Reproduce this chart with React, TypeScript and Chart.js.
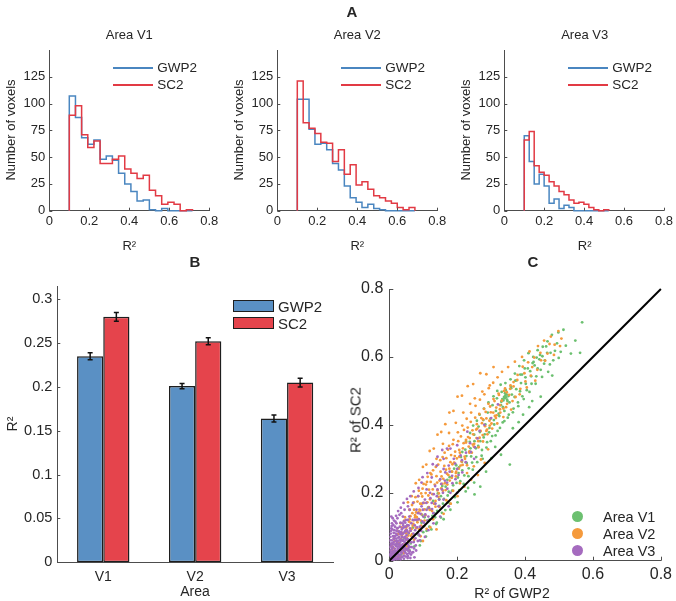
import React, { useEffect, useRef } from "react";
import { Chart, registerables } from "chart.js";
Chart.register(...registerables);

const FONT = '"Liberation Sans", Arial, Helvetica, sans-serif';
const TXT = "#262626";
const AXIS = "#4d4d4d";
const BLUE_LINE = "#4a86c0";
const RED_LINE = "#e23a44";
const BAR_BLUE = "#5a90c4";
const BAR_RED = "#e5444c";
const GREEN = "#6cc070";
const ORANGE = "#f59a3c";
const PURPLE = "#a56bbf";

// ---------- Panel A : histograms ----------
const histStart = 0.1;
const v1BinWidth = 0.0308;
const v1Gwp2 = [107, 87, 68, 62, 66, 48, 51, 47, 35, 25, 18, 9, 10, 1, 0, 2, 0, 0, 0, 0];
const v1Sc2 = [89, 98, 71, 59, 65, 44, 44, 48, 51, 39, 35, 30, 33, 19, 14, 6, 8, 6, 0, 1];
const v2BinWidth = 0.0294;
const v2Gwp2 = [104, 104, 76, 62, 63, 57, 44, 38, 23, 12, 8, 3, 6, 2, 1, 0, 0, 0, 0, 0];
const v2Sc2 = [121, 82, 77, 72, 64, 63, 46, 57, 34, 43, 24, 27, 20, 14, 12, 9, 7, 3, 1, 3];
const v3BinWidth = 0.0249;
const v3Gwp2 = [70, 46, 25, 34, 23, 7, 11, 2, 5, 3, 0, 0, 0, 0, 0, 0, 0];
const v3Sc2 = [66, 74, 42, 36, 33, 27, 23, 18, 15, 10, 7, 8, 6, 3, 1, 0, 1];
const histXTicks = [0, 0.2, 0.4, 0.6, 0.8];
const histYTicks = [0, 25, 50, 75, 100, 125];

// ---------- Panel B : bars ----------
const areas = ["V1", "V2", "V3"];
const gwp2Mean = [0.235, 0.201, 0.164];
const sc2Mean = [0.28, 0.252, 0.205];
const gwp2Err = [0.004, 0.003, 0.004];
const sc2Err = [0.005, 0.004, 0.005];
const barYTicks = [0, 0.05, 0.1, 0.15, 0.2, 0.25, 0.3];

// ---------- Panel C : scatter (values in thousandths of R²) ----------
const diagonal = [0, 0.8];
const scatterTicks = [0, 0.2, 0.4, 0.6, 0.8];
const v1Scatter = [
  [12,25],[22,48],[35,18],[41,62],[48,35],[57,80],[63,51],[69,97],[74,42],[82,118],[86,76],[93,58],[97,135],[103,102],[108,71],[114,156],[118,121],[124,92],[129,176],[133,140],[138,108],[143,198],[147,161],[152,127],[156,220],[161,182],[165,149],[171,238],[175,203],[179,168],[184,262],[188,222],[193,187],[197,281],[202,245],[206,208],[211,305],[215,266],[219,226],[224,327],[228,288],[233,249],[237,350],[241,307],[246,268],[250,371],[255,331],[259,290],[263,395],[268,352],[272,309],[277,414],[281,372],[286,333],[290,436],[295,391],[299,352],[304,458],[308,414],[313,369],[317,478],[322,433],[326,391],[331,497],[335,452],[339,411],[344,481],[348,470],[352,430],[357,534],[361,489],[366,448],[370,551],[374,505],[379,466],[383,573],[388,523],[392,484],[397,590],[401,540],[405,502],[410,611],[415,558],[419,521],[424,600],[428,575],[433,543],[437,620],[442,593],[446,562],[451,602],[456,580],[462,631],[468,556],[475,612],[483,590],[494,640],[505,615],
  [340,478],[342,486],[336,472],[345,490],[338,482],[333,476],[347,474],[341,493],[330,468],[351,485],
  [355,283],[268,218],[251,195],[301,302],[329,312],[381,408],[412,452],[446,483],[562,612],[568,702],[160,122],[201,172],[232,214],[285,262],[312,335],[364,390],[394,430],[421,470],[480,545],[250,230],[225,204],[275,300],[180,150],[140,112],[110,88],[90,45],[60,30],[30,8],
  [205,275],[215,320],[226,352],[238,376],[247,398],[258,412],[266,430],[279,448],[292,466],[307,484],[318,500],[328,518],[342,523],[358,512],[371,530],[386,548],[399,566],[422,582],[434,598],[452,630],[466,646],[479,665],[498,672],[513,680],
  [152,190],[158,168],[166,218],[172,192],[178,246],[185,206],[191,271],[198,229],[204,258],[209,234],[214,291],[221,251],[227,308],[234,272],[239,331],[244,289],[251,352],[256,305],[262,338],[267,379],[273,326],[278,363],[283,401],[288,349],[294,378],[298,418],[303,367],[309,401],[314,441],[319,382],[324,426],[329,458],[334,407],[339,441],[343,502],[349,421],[354,466],[359,508],[364,437],[369,482],[375,531],[380,455],[385,499],[391,548],[396,476],[402,521],[408,566],[413,497],[418,543],[425,585],[431,521],[437,566],[444,606],[450,541],[458,590],[465,612],[473,578],[488,618],[499,597],[520,633],[535,610],[548,648],
  [95,112],[104,128],[112,118],[120,150],[127,132],[134,168],[141,147],[147,181],[100,84],[118,100],[135,128],[155,141],[172,171]
];
const v2Scatter = [
  [8,42],[14,66],[19,28],[24,88],[28,52],[33,110],[37,74],[41,36],[46,128],[50,92],[54,60],[59,150],[63,112],[67,78],[72,172],[76,134],[80,96],[85,190],[89,150],[93,118],[98,212],[102,170],[106,134],[111,232],[115,192],[119,150],[124,254],[128,210],[132,168],[137,276],[141,230],[145,188],[150,296],[154,248],[158,206],[163,318],[167,268],[171,224],[176,338],[180,290],[184,244],[189,356],[193,308],[197,262],[202,378],[206,326],[210,280],[215,398],[219,346],[223,300],[228,418],[232,364],[236,318],[241,436],[245,384],[249,336],[254,456],[258,402],[262,352],[267,474],[271,420],[275,370],[280,490],[284,438],[288,386],[293,508],[297,454],[301,404],[306,524],[310,470],[314,420],[319,540],[323,488],[327,436],[332,556],[338,500],[344,452],[350,570],[357,516],[363,470],[370,586],[377,532],[384,490],[391,600],[398,552],[405,510],[413,616],[421,570],[430,530],[438,632],[447,590],[456,648],[466,610],[476,660],[487,636],[498,676],[507,654],
  [55,172],[66,190],[78,228],[88,238],[99,276],[109,283],[119,323],[131,330],[142,371],[153,379],[165,402],[177,436],[189,441],[201,483],[214,486],[231,514],[247,520],[268,552],[286,549],[307,570],[121,258],[108,224],[94,198],[83,174],[73,150],[139,300],[158,344],[176,376],[196,406],[218,436],[238,462],[252,478],[274,498],[296,516],
  [104,118],[116,158],[126,146],[136,176],[146,198],[156,226],[166,208],[174,252],[186,284],[196,258],[206,306],[216,282],[226,356],[236,322],[246,342],[256,386],[266,362],[276,416],[286,382],[296,398],[306,436],[316,428],[326,458],[336,448],[346,496],[356,506],[366,526],
  [92,72],[110,94],[129,122],[148,158],[168,178],[188,206],[208,228],[229,258],[249,278],[270,298],[291,328],[139,92],[160,138],[181,168],[201,190],[221,218],[241,238],[261,252],[281,288],[99,58],[121,98],
  [10,28],[16,58],[26,78],[36,98],[44,118],[51,68],[61,88],[71,108],[81,128],[91,148],[26,12],[36,30],[46,48],[56,74],[66,94],[76,128],[86,142],[96,168],[18,8],[42,22],[31,45],[58,115],[68,140],[48,100],
  [62,131],[67,164],[71,119],[77,187],[79,142],[84,121],[87,206],[91,168],[94,137],[97,189],[101,226],[104,151],[107,199],[112,172],[113,247],[117,209],[120,181],[122,232],[127,196],[129,266],[134,224],[136,159],[139,249],[142,207],[144,283],[148,236],[151,262],[153,213],[157,305],[159,241],[162,279],[164,228],[168,302],[170,256],[173,327],[177,271],[178,236],[182,311],[185,262],[187,343],[191,289],[194,321],[196,248],[199,301],[203,352],[205,271],[208,318],[211,366],[213,292],[217,331],[220,385],[222,306],[226,348],[229,281],[231,392],[234,336],[237,361],[240,409],[243,318],[247,372],[250,344],[253,421],[257,361],[259,389],[263,334],[265,432],[269,382],[273,405],[276,351],[279,447],[282,396],[286,419],[289,372],[292,462],[295,412],[299,437],[303,389],[307,476],[311,426],[315,451],[318,404],[322,492],[326,446],[331,471],[336,423],[341,507],[347,462],[353,488],[359,445],[366,513],[372,482],[378,547],[386,506],[393,571],[401,528],[409,584],[417,545],[427,598],[436,562],[445,612],[459,589],[472,638],[485,606],[503,632],
  [14,36],[21,57],[27,31],[34,64],[39,82],[43,47],[49,81],[53,101],[57,56],[60,122],[45,29],[33,12],[52,42],[64,73],[69,103],[73,62],[78,97],[83,113],[88,92],[94,103]
];
const v3Scatter = [
  [2,5],[4,12],[6,20],[8,3],[10,15],[12,28],[14,8],[16,35],[18,22],[20,12],[22,42],[24,30],[26,5],[28,18],[30,50],[32,38],[34,25],[36,10],[38,60],[40,45],[42,30],[44,15],[46,70],[48,52],[50,35],[52,20],[54,8],[56,62],[58,42],[60,28],
  [3,30],[5,45],[7,60],[9,38],[11,72],[13,55],[15,90],[17,48],[19,80],[21,65],[23,95],[25,58],[27,85],[29,70],[31,100],[33,78],[35,62],[37,92],[39,110],[41,80],[43,98],[45,55],[47,88],[49,120],[51,75],[53,105],[55,48],[57,82],[59,130],[61,95],
  [1,2],[3,8],[5,3],[7,14],[9,6],[11,22],[13,2],[15,16],[17,6],[19,28],[21,4],[23,18],[25,36],[27,10],[29,30],[31,16],[33,4],[35,44],[37,22],[39,12],[41,36],[43,6],[45,40],[47,24],[49,12],[51,50],[53,32],[55,14],[57,38],[59,22],
  [62,8],[64,18],[66,40],[68,70],[70,25],[72,55],[74,10],[76,90],[78,45],[80,120],[2,60],[4,80],[6,95],[8,110],[10,125],[6,130],[12,105],[18,115],[24,125],[30,135],
  [1,40],[2,20],[4,50],[3,70],[5,88],[7,102],[9,92],[11,48],[13,82],[15,66],[17,100],[19,58],[21,110],[23,76],[25,96],[27,48],[29,86],[31,62],[33,112],[35,84],[37,70],[39,96],[41,58],[43,116],[45,84],[47,66],[49,100],[51,90],[53,64],[55,120],
  [85,140],[90,100],[95,160],[100,130],[105,180],[110,150],[115,90],[120,200],[125,170],[130,140],[135,220],[140,190],[145,160],[150,240],[155,210],[160,180],[165,260],[170,230],[175,280],[180,200],[185,250],[190,300],[195,240],[200,270],[210,310],[215,260],[225,290],[240,320],[250,300],[260,360],[280,400],[300,420],[320,460],[90,60],[100,170],[110,210],[85,190],[95,230],[105,70],[125,245],[140,280],[160,300],[170,330],[130,110],[150,130],[175,160],[200,200],[60,150],[70,170],[75,120],[65,110],[55,160],[85,80],[80,150],[100,100],[115,130],[45,150],[40,130],[35,140],[200,340],[230,380],[180,330],[160,270],
  [3,16],[5,26],[7,34],[9,52],[11,40],[13,64],[15,28],[17,72],[19,44],[21,88],[23,52],[25,22],[27,68],[29,42],[31,82],[33,56],[35,28],[37,78],[39,48],[41,104],[43,68],[45,28],[47,112],[49,62],[51,34],[53,86],[55,30],[57,104],[59,58],[61,40],[63,88],[65,54],[67,24],[69,120],[71,80],[73,36],[75,104],[77,66],[79,30],[82,98],[84,58],[87,122],[89,74],[92,138],[94,88],[97,116],[99,150],[102,112],[106,136],[109,170],[113,118],[117,156],[121,184],[126,152],[131,196],[136,168],[142,210],[147,180],[153,226],[158,200],[164,236],[171,212],[178,262],[186,228],[194,286],[204,252],[214,296],[226,318],[238,346],[252,334],[266,382],[14,118],[20,132],[26,146],[34,156],[42,170],[52,182],[62,190],[72,204],[86,214],[98,246],[112,258],[128,284],[142,306],[156,326]
];

// ---------- helpers ----------
const W = 676;
const H = 601;

function stepPoints(counts: number[], start: number, width: number) {
  const pts = [{ x: start, y: 0 }];
  counts.forEach((c, k) => pts.push({ x: start + (k + 1) * width, y: c }));
  pts.push({ x: start + counts.length * width, y: 0 });
  return pts;
}

function fmt(v: any) {
  const n = Number(v);
  if (Math.abs(n) < 1e-9) return "0";
  return String(Math.round(n * 1000) / 1000);
}

const inTicks = {
  id: "inTicks",
  afterDatasetsDraw(chart: any, _a: any, opts: any) {
    if (!opts || !opts.len) return;
    const ctx = chart.ctx;
    const { left, bottom } = chart.chartArea;
    ctx.save();
    ctx.strokeStyle = AXIS;
    ctx.lineWidth = 1;
    if (opts.x) {
      const s = chart.scales.x;
      s.ticks.forEach((t: any) => {
        const p = Math.round(s.getPixelForValue(t.value)) + 0.5;
        ctx.beginPath();
        ctx.moveTo(p, bottom);
        ctx.lineTo(p, bottom - opts.len);
        ctx.stroke();
      });
    }
    if (opts.y) {
      const s = chart.scales.y;
      s.ticks.forEach((t: any) => {
        const p = Math.round(s.getPixelForValue(t.value)) + 0.5;
        ctx.beginPath();
        ctx.moveTo(left, p);
        ctx.lineTo(left + opts.len, p);
        ctx.stroke();
      });
    }
    ctx.restore();
  },
};

const errorBars = {
  id: "errorBars",
  afterDatasetsDraw(chart: any) {
    const ctx = chart.ctx;
    const ys = chart.scales.y;
    chart.data.datasets.forEach((ds: any, i: number) => {
      if (!ds.errors) return;
      const meta = chart.getDatasetMeta(i);
      meta.data.forEach((el: any, j: number) => {
        const v = ds.data[j];
        const e = ds.errors[j];
        const top = ys.getPixelForValue(v + e);
        const bot = ys.getPixelForValue(v - e);
        ctx.save();
        ctx.strokeStyle = "#111";
        ctx.lineWidth = 1.5;
        ctx.beginPath();
        ctx.moveTo(el.x, top);
        ctx.lineTo(el.x, bot);
        ctx.moveTo(el.x - 2.5, top);
        ctx.lineTo(el.x + 2.5, top);
        ctx.moveTo(el.x - 2.5, bot);
        ctx.lineTo(el.x + 2.5, bot);
        ctx.stroke();
        ctx.restore();
      });
    });
  },
};

function axisOpts(size: number, pad: number, extra: any) {
  return {
    grid: { display: false, drawTicks: false },
    border: { display: true, color: AXIS, width: 1 },
    ticks: {
      font: { family: FONT, size },
      color: TXT,
      padding: pad,
      maxRotation: 0,
      autoSkip: false,
      callback: fmt,
    },
    ...extra,
  };
}

function histConfig(L: number, R: number, gw: number[], sc: number[], width: number) {
  const T = 50;
  const B = 210.7;
  const yW = 40;
  const xH = 30;
  return {
    type: "line",
    data: {
      datasets: [
        { label: "SC2", data: stepPoints(sc, histStart, width), borderColor: RED_LINE, borderWidth: 1.5, pointRadius: 0, stepped: "after", fill: false, order: 0, clip: false },
        { label: "GWP2", data: stepPoints(gw, histStart, width), borderColor: BLUE_LINE, borderWidth: 1.5, pointRadius: 0, stepped: "after", fill: false, order: 1, clip: false },
      ],
    },
    options: {
      responsive: false,
      animation: false,
      devicePixelRatio: 1,
      layout: { padding: { left: L - yW, right: W - R, top: T, bottom: H - B - xH } },
      plugins: { legend: { display: false }, tooltip: { enabled: false }, inTicks: { x: true, y: true, len: 3 } },
      scales: {
        x: axisOpts(13, 3, {
          type: "linear", min: 0, max: 0.8,
          afterBuildTicks: (s: any) => { s.ticks = histXTicks.map((v) => ({ value: v })); },
          afterFit: (s: any) => { s.height = xH; },
        }),
        y: axisOpts(13, 4, {
          type: "linear", min: 0, max: 150,
          afterBuildTicks: (s: any) => { s.ticks = histYTicks.map((v) => ({ value: v })); },
          afterFit: (s: any) => { s.width = yW; },
        }),
      },
    },
    plugins: [inTicks],
  };
}

function barConfig() {
  const L = 57.3, R = 333, T = 286.1, B = 562.3, yW = 45, xH = 30;
  return {
    type: "bar",
    data: {
      labels: areas,
      datasets: [
        { label: "GWP2", data: gwp2Mean, errors: gwp2Err, backgroundColor: BAR_BLUE, borderColor: "#1e1e1e", borderWidth: 1.5, borderSkipped: false, categoryPercentage: 0.57, barPercentage: 1 },
        { label: "SC2", data: sc2Mean, errors: sc2Err, backgroundColor: BAR_RED, borderColor: "#1e1e1e", borderWidth: 1.5, borderSkipped: false, categoryPercentage: 0.57, barPercentage: 1 },
      ],
    },
    options: {
      responsive: false,
      animation: false,
      devicePixelRatio: 1,
      layout: { padding: { left: L - yW, right: W - R, top: T, bottom: H - B - xH } },
      plugins: { legend: { display: false }, tooltip: { enabled: false }, inTicks: { x: false, y: true, len: 3 } },
      scales: {
        x: {
          grid: { display: false, drawTicks: false },
          border: { display: true, color: AXIS, width: 1 },
          ticks: { font: { family: FONT, size: 14 }, color: TXT, padding: 6 },
          afterFit: (s: any) => { s.height = xH; },
        },
        y: axisOpts(14.5, 5, {
          type: "linear", min: 0, max: 0.315,
          afterBuildTicks: (s: any) => { s.ticks = barYTicks.map((v) => ({ value: v })); },
          afterFit: (s: any) => { s.width = yW; },
        }),
      },
    },
    plugins: [inTicks, errorBars],
  };
}

function toPts(arr: number[][]) {
  return arr.map(([a, b]) => ({ x: a / 1000, y: b / 1000 }));
}

function scatterConfig() {
  const L = 389.3, R = 661, T = 289, B = 560.7, yW = 45, xH = 30;
  const pt = { pointRadius: 1.4, pointBorderWidth: 0, showLine: false };
  return {
    type: "scatter",
    data: {
      datasets: [
        { label: "diag", data: diagonal.map((v) => ({ x: v, y: v })), showLine: true, borderColor: "#000", borderWidth: 2, pointRadius: 0, order: -1, clip: false },
        { label: "Area V1", data: toPts(v1Scatter), backgroundColor: GREEN, ...pt, order: 2 },
        { label: "Area V2", data: toPts(v2Scatter), backgroundColor: ORANGE, ...pt, order: 1 },
        { label: "Area V3", data: toPts(v3Scatter), backgroundColor: PURPLE, ...pt, order: 0 },
      ],
    },
    options: {
      responsive: false,
      animation: false,
      devicePixelRatio: 1,
      layout: { padding: { left: L - yW, right: W - R, top: T, bottom: H - B - xH } },
      plugins: { legend: { display: false }, tooltip: { enabled: false }, inTicks: { x: true, y: true, len: 4 } },
      scales: {
        x: axisOpts(16, 4, {
          type: "linear", min: 0, max: 0.8,
          afterBuildTicks: (s: any) => { s.ticks = scatterTicks.map((v) => ({ value: v })); },
          afterFit: (s: any) => { s.height = xH; },
        }),
        y: axisOpts(16, 6, {
          type: "linear", min: 0, max: 0.8,
          afterBuildTicks: (s: any) => { s.ticks = scatterTicks.map((v) => ({ value: v })); },
          afterFit: (s: any) => { s.width = yW; },
        }),
      },
    },
    plugins: [inTicks],
  };
}

function Txt(props: { x: number; y: number; size: number; bold?: boolean; rot?: boolean; left?: boolean; children: any }) {
  const { x, y, size, bold, rot, left, children } = props;
  const style: React.CSSProperties = {
    position: "absolute",
    left: x,
    top: y,
    fontFamily: FONT,
    fontSize: size,
    fontWeight: bold ? "bold" : "normal",
    lineHeight: 1,
    whiteSpace: "nowrap",
    color: TXT,
    transform: `translate(${left ? "0" : "-50%"},-50%)${rot ? " rotate(-90deg)" : ""}`,
  };
  return <div style={style}>{children}</div>;
}

function Swatch(props: { x: number; y: number; w: number; h: number; color: string; border?: string; round?: boolean }) {
  const { x, y, w, h, color, border, round } = props;
  return (
    <div
      style={{
        position: "absolute",
        left: x,
        top: y,
        width: w,
        height: h,
        background: color,
        border: border || "none",
        borderRadius: round ? "50%" : 0,
        boxSizing: "border-box",
      }}
    />
  );
}

const histPanels = [
  { L: 49.3, R: 209.3, title: "Area V1" },
  { L: 277.3, R: 437.3, title: "Area V2" },
  { L: 504.3, R: 665, title: "Area V3" },
];

export default function App() {
  const refs = [useRef<HTMLCanvasElement>(null), useRef<HTMLCanvasElement>(null), useRef<HTMLCanvasElement>(null), useRef<HTMLCanvasElement>(null), useRef<HTMLCanvasElement>(null)];

  useEffect(() => {
    const cfgs: any[] = [
      histConfig(histPanels[0].L, histPanels[0].R, v1Gwp2, v1Sc2, v1BinWidth),
      histConfig(histPanels[1].L, histPanels[1].R, v2Gwp2, v2Sc2, v2BinWidth),
      histConfig(histPanels[2].L, histPanels[2].R, v3Gwp2, v3Sc2, v3BinWidth),
      barConfig(),
      scatterConfig(),
    ];
    const charts = cfgs.map((c, i) => new Chart(refs[i].current as HTMLCanvasElement, c));
    return () => charts.forEach((c) => c.destroy());
  }, []);

  return (
    <div style={{ position: "absolute", left: 0, top: 0, width: W, height: H, background: "#fff", overflow: "hidden" }}>
      {refs.map((r, i) => (
        <canvas key={i} ref={r} width={W} height={H} style={{ position: "absolute", left: 0, top: 0, width: W, height: H }} />
      ))}

      {/* Panel A texts */}
      <Txt x={352} y={11} size={15} bold>A</Txt>
      {histPanels.map((p, i) => {
        const c = (p.L + p.R) / 2;
        const lx = Math.round(p.L + 64);
        return (
          <React.Fragment key={i}>
            <Txt x={c} y={34} size={13}>{p.title}</Txt>
            <Txt x={p.L - 39.7} y={130} size={13} rot>Number of voxels</Txt>
            <Txt x={c} y={245} size={13}>R²</Txt>
            <Swatch x={lx} y={67} w={40} h={2} color={BLUE_LINE} />
            <Swatch x={lx} y={84} w={40} h={2} color={RED_LINE} />
            <Txt x={p.L + 108} y={67.5} size={13.5} left>GWP2</Txt>
            <Txt x={p.L + 108} y={84.7} size={13.5} left>SC2</Txt>
          </React.Fragment>
        );
      })}

      {/* Panel B texts */}
      <Txt x={195} y={261} size={15} bold>B</Txt>
      <Txt x={12} y={424} size={14} rot>R²</Txt>
      <Txt x={195} y={591} size={14}>Area</Txt>
      <Swatch x={233} y={300} w={41} h={12} color={BAR_BLUE} border="1.5px solid #1e1e1e" />
      <Swatch x={233} y={317} w={41} h={12} color={BAR_RED} border="1.5px solid #1e1e1e" />
      <Txt x={278} y={306} size={15} left>GWP2</Txt>
      <Txt x={278} y={323} size={15} left>SC2</Txt>

      {/* Panel C texts */}
      <Txt x={533} y={261} size={15} bold>C</Txt>
      <Txt x={355} y={420} size={15} rot>R² of SC2</Txt>
      <Txt x={512} y={593} size={14}>R² of GWP2</Txt>
      <Swatch x={572.2} y={511.2} w={11} h={11} color={GREEN} round />
      <Swatch x={572.2} y={528} w={11} h={11} color={ORANGE} round />
      <Swatch x={572.2} y={545} w={11} h={11} color={PURPLE} round />
      <Txt x={603} y={516.7} size={14.5} left>Area V1</Txt>
      <Txt x={603} y={533.5} size={14.5} left>Area V2</Txt>
      <Txt x={603} y={550.5} size={14.5} left>Area V3</Txt>
    </div>
  );
}
